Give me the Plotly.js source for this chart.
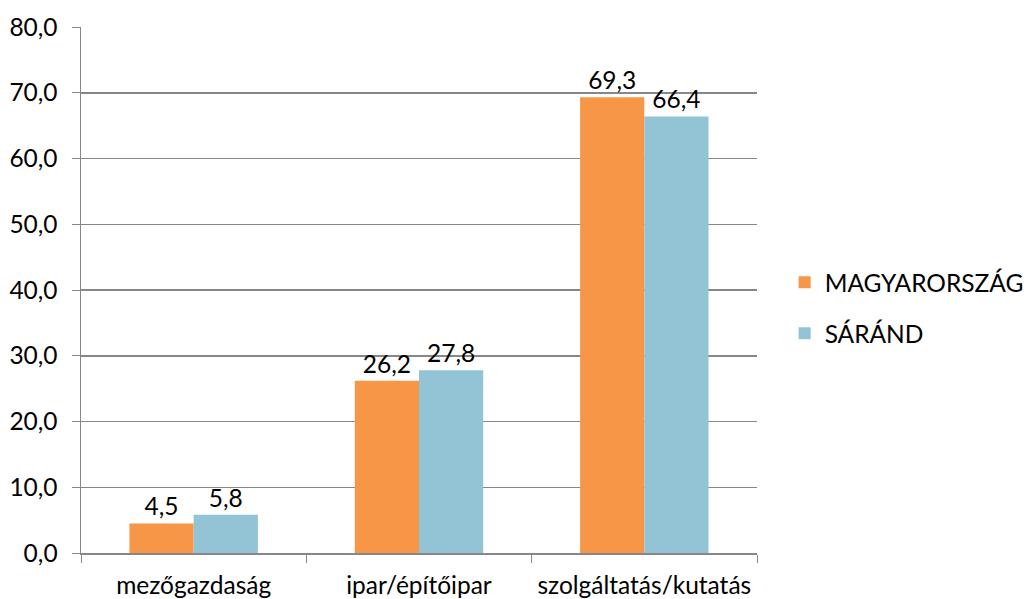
<!DOCTYPE html>
<html>
<head>
<meta charset="utf-8">
<script src="https://cdn.plot.ly/plotly-3.0.1.min.js"></script>
<style>html,body{margin:0;padding:0;background:#fff;}#chart{width:1027px;height:599px;}</style>
</head>
<body>
<div id="chart"></div>
<script>
const categories = ["mezőgazdaság", "ipar/építőipar", "szolgáltatás/kutatás"];
const seriesNames = ["MAGYARORSZÁG", "SÁRÁND"];
const magyarorszag = [4.5, 26.2, 69.3];
const sarand = [5.8, 27.8, 66.4];
const yTicks = [0, 10, 20, 30, 40, 50, 60, 70, 80];

const FONT = "Lato, 'Open Sans', sans-serif";
const FS = 24.5;
const traces = [
  {type: "bar", name: seriesNames[0], x: categories, y: magyarorszag,
   marker: {color: "#F79646"}, legendgroup: "a",
   texttemplate: "%{y:.1f}", textposition: "outside", cliponaxis: false,
   textfont: {family: FONT, size: FS, color: "#000"}},
  {type: "bar", name: seriesNames[1], x: categories, y: sarand,
   marker: {color: "#93C4D5"}, legendgroup: "b",
   texttemplate: "%{y:.1f}", textposition: "outside", cliponaxis: false,
   textfont: {family: FONT, size: FS, color: "#000"}}
];
const layout = {
  width: 1027, height: 599,
  margin: {l: 81, r: 270, t: 27, b: 46},
  separators: ", ",
  paper_bgcolor: "#fff", plot_bgcolor: "#fff",
  font: {family: FONT, size: FS, color: "#000"},
  barmode: "group", bargap: 0.43, bargroupgap: 0,
  showlegend: true,
  legend: {xref: "container", yref: "container", x: 0.764, xanchor: "left",
           y: 0.486, yanchor: "middle",
           traceorder: "grouped", tracegroupgap: 16,
           font: {family: FONT, size: FS, color: "#000"}, itemwidth: 30},
  xaxis: {showgrid: false, showline: true, linecolor: "#878787", linewidth: 1.5,
          ticks: "outside", tickson: "boundaries", ticklen: 8, tickcolor: "#878787",
          ticklabelstandoff: 10, tickangle: 0, automargin: false,
          tickfont: {family: FONT, size: FS, color: "#000"}},
  yaxis: {range: [0, 80], tickvals: yTicks, tickformat: ".1f",
          showgrid: true, gridcolor: "#878787", gridwidth: 1.5,
          showline: true, linecolor: "#878787", linewidth: 1.5,
          ticks: "outside", ticklen: 8, tickcolor: "#878787",
          ticklabelstandoff: 9, automargin: false,
          zeroline: false,
          tickfont: {family: FONT, size: FS, color: "#000"}}
};
Plotly.newPlot("chart", traces, layout, {displayModeBar: false, staticPlot: true});
</script>
</body>
</html>
